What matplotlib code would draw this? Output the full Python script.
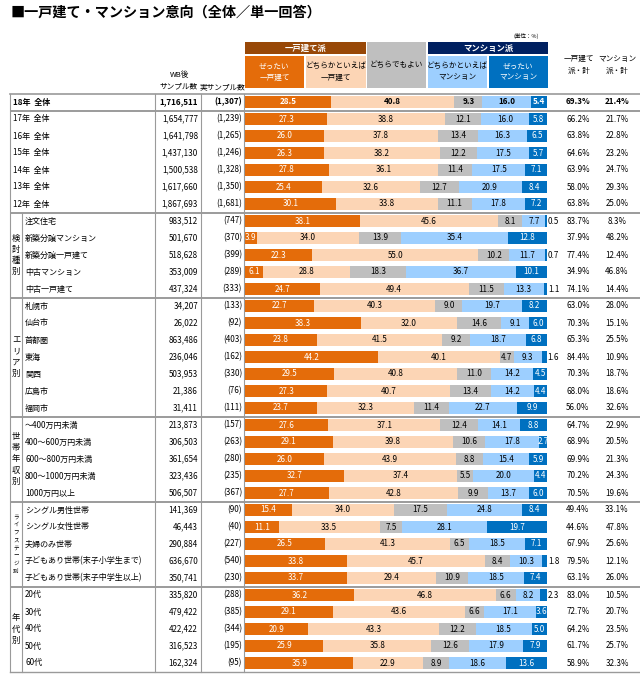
import numpy as np
import matplotlib
matplotlib.use('Agg')
import matplotlib.pyplot as plt
import matplotlib.transforms as mtransforms
from matplotlib.patches import Rectangle

plt.rcParams['font.family'] = ['Noto Sans CJK JP', 'DejaVu Sans']

labels = ['18年  全体', '17年  全体', '16年  全体', '15年  全体', '14年  全体', '13年  全体', '12年  全体',
          '注文住宅', '新築分譲マンション', '新築分譲一戸建て', '中古マンション', '中古一戸建て',
          '札幌市', '仙台市', '首都圏', '東海', '関西', '広島市', '福岡市',
          '～400万円未満', '400～600万円未満', '600～800万円未満', '800～1000万円未満', '1000万円以上',
          'シングル男性世帯', 'シングル女性世帯', '夫婦のみ世帯', '子どもあり世帯(末子小学生まで)', '子どもあり世帯(末子中学生以上)',
          '20代', '30代', '40代', '50代', '60代']
wb_n = [1716511, 1654777, 1641798, 1437130, 1500538, 1617660, 1867693,
        983512, 501670, 518628, 353009, 437324,
        34207, 26022, 863486, 236046, 503953, 21386, 31411,
        213873, 306503, 361654, 323436, 506507,
        141369, 46443, 290884, 636670, 350741,
        335820, 479422, 422422, 316523, 162324]
real_n = [1307, 1239, 1265, 1246, 1328, 1350, 1681,
          747, 370, 399, 289, 333,
          133, 92, 403, 162, 330, 76, 111,
          157, 263, 280, 235, 367,
          90, 40, 227, 540, 230,
          288, 385, 344, 195, 95]
zettai_ikko = [28.5, 27.3, 26.0, 26.3, 27.8, 25.4, 30.1,
               38.1, 3.9, 22.3, 6.1, 24.7,
               22.7, 38.3, 23.8, 44.2, 29.5, 27.3, 23.7,
               27.6, 29.1, 26.0, 32.7, 27.7,
               15.4, 11.1, 26.5, 33.8, 33.7,
               36.2, 29.1, 20.9, 25.9, 35.9]
dochira_ikko = [40.8, 38.8, 37.8, 38.2, 36.1, 32.6, 33.8,
                45.6, 34.0, 55.0, 28.8, 49.4,
                40.3, 32.0, 41.5, 40.1, 40.8, 40.7, 32.3,
                37.1, 39.8, 43.9, 37.4, 42.8,
                34.0, 33.5, 41.3, 45.7, 29.4,
                46.8, 43.6, 43.3, 35.8, 22.9]
dochira_demo = [9.3, 12.1, 13.4, 12.2, 11.4, 12.7, 11.1,
                8.1, 13.9, 10.2, 18.3, 11.5,
                9.0, 14.6, 9.2, 4.7, 11.0, 13.4, 11.4,
                12.4, 10.6, 8.8, 5.5, 9.9,
                17.5, 7.5, 6.5, 8.4, 10.9,
                6.6, 6.6, 12.2, 12.6, 8.9]
dochira_mansion = [16.0, 16.0, 16.3, 17.5, 17.5, 20.9, 17.8,
                   7.7, 35.4, 11.7, 36.7, 13.3,
                   19.7, 9.1, 18.7, 9.3, 14.2, 14.2, 22.7,
                   14.1, 17.8, 15.4, 20.0, 13.7,
                   24.8, 28.1, 18.5, 10.3, 18.5,
                   8.2, 17.1, 18.5, 17.9, 18.6]
zettai_mansion = [5.4, 5.8, 6.5, 5.7, 7.1, 8.4, 7.2,
                  0.5, 12.8, 0.7, 10.1, 1.1,
                  8.2, 6.0, 6.8, 1.6, 4.5, 4.4, 9.9,
                  8.8, 2.7, 5.9, 4.4, 6.0,
                  8.4, 19.7, 7.1, 1.8, 7.4,
                  2.3, 3.6, 5.0, 7.9, 13.6]
ikko_total = [69.3, 66.2, 63.8, 64.6, 63.9, 58.0, 63.8,
              83.7, 37.9, 77.4, 34.9, 74.1,
              63.0, 70.3, 65.3, 84.4, 70.3, 68.0, 56.0,
              64.7, 68.9, 69.9, 70.2, 70.5,
              49.4, 44.6, 67.9, 79.5, 63.1,
              83.0, 72.7, 64.2, 61.7, 58.9]
mansion_total = [21.4, 21.7, 22.8, 23.2, 24.7, 29.3, 25.0,
                 8.3, 48.2, 12.4, 46.8, 14.4,
                 28.0, 15.1, 25.5, 10.9, 18.7, 18.6, 32.6,
                 22.9, 20.5, 21.3, 24.3, 19.6,
                 33.1, 47.8, 25.6, 12.1, 26.0,
                 10.5, 20.7, 23.5, 25.7, 32.3]
sections = [('検討種別', 7, 11), ('エリア別', 12, 18), ('世帯年収別', 19, 23),
            ('ライフステージ別', 24, 28), ('年代別', 29, 33)]
seg_names = ['ぜったい\n一戸建て', 'どちらかといえば\n一戸建て', 'どちらでもよい',
             'どちらかといえば\nマンション', 'ぜったい\nマンション']

colors = ['#E46C0A', '#FCD5B5', '#BFBFBF', '#9DCFFF', '#0070C0']
txt_colors = ['white', 'black', 'black', 'black', 'white']
line_c = '#9a9a9a'

W, H = 640, 678
fig = plt.figure(figsize=(W / 100, H / 100), dpi=100)
ax0 = fig.add_axes([0, 0, 1, 1])
ax0.set_xlim(0, W)
ax0.set_ylim(H, 0)
ax0.axis('off')

n = len(labels)
top, step = 93.5, 17.0
bar_l, bar_r = 245, 547
ax = fig.add_axes([bar_l / W, 1 - (top + n * step) / H, (bar_r - bar_l) / W, n * step / H])
ax.set_xlim(0, 100)
ax.set_ylim(n - 0.5, -0.5)
ax.axis('off')
ax.patch.set_alpha(0)

# x in pixels, y in row index
tr = mtransforms.blended_transform_factory(ax0.transData, ax.transData)

fs = 5.8
# title
ax0.text(11, 13, '■一戸建て・マンション意向（全体／単一回答）', fontsize=10.2,
         fontweight='bold', va='center', ha='left')

# header boxes
def box(x0, x1, y0, y1, fc, text, tc, bold=False, size=5.5):
    ax0.add_patch(Rectangle((x0, y0), x1 - x0, y1 - y0, facecolor=fc, edgecolor='none'))
    ax0.text((x0 + x1) / 2, (y0 + y1) / 2, text, ha='center', va='center', color=tc,
             fontsize=size, fontweight='bold' if bold else 'normal', linespacing=1.5)

box(245, 366, 42, 54, '#984807', '一戸建て派', 'white', True, 6)
box(428, 548, 42, 54, '#002060', 'マンション派', 'white', True, 6)
seg_x = [(245, 304), (306, 366), (367, 426), (428, 487), (489, 548)]
for k, (x0, x1) in enumerate(seg_x):
    y0 = 42 if k == 2 else 56
    box(x0, x1, y0, 88, colors[k], seg_names[k], txt_colors[k])
ax0.text(526, 36, '(単位：%)', fontsize=4, ha='center', va='center')
ax0.text(579, 65, '一戸建て\n派・計', fontsize=5.5, ha='center', va='center', linespacing=1.6)
ax0.text(617, 65, 'マンション\n派・計', fontsize=5.5, ha='center', va='center', linespacing=1.6)
ax0.text(179, 81, 'WB後\nサンプル数', fontsize=5.5, ha='center', va='center', linespacing=1.6)
ax0.text(222, 87.5, '実サンプル数', fontsize=5.5, ha='center', va='center')

# stacked bars
series = [zettai_ikko, dochira_ikko, dochira_demo, dochira_mansion, zettai_mansion]
rows = np.arange(n)
left = np.zeros(n)
for k, vals in enumerate(series):
    vals = np.array(vals)
    ax.barh(rows, vals, left=left, height=0.72, color=colors[k], linewidth=0)
    for i, v in enumerate(vals):
        w = 'bold' if i == 0 else 'normal'
        if k == 4 and v < 2.5:
            ax.text(left[i] + v + 0.3, i, f'{v:.1f}', ha='left', va='center',
                    fontsize=fs, color='black', fontweight=w, clip_on=False)
        else:
            ax.text(left[i] + v / 2, i, f'{v:.1f}', ha='center', va='center',
                    fontsize=fs, color=txt_colors[k], fontweight=w)
    left += vals

# table text
for i in range(n):
    w = 'bold' if i == 0 else 'normal'
    ax0.text(13 if i < 7 else 25, i, labels[i], transform=tr, ha='left', va='center', fontsize=fs, fontweight=w)
    ax0.text(198, i, f'{wb_n[i]:,}', transform=tr, ha='right', va='center', fontsize=fs, fontweight=w)
    ax0.text(242, i, f'({real_n[i]:,})', transform=tr, ha='right', va='center', fontsize=fs, fontweight=w)
    ax0.text(578, i, f'{ikko_total[i]:.1f}%', transform=tr, ha='center', va='center', fontsize=fs, fontweight=w)
    ax0.text(617, i, f'{mansion_total[i]:.1f}%', transform=tr, ha='center', va='center', fontsize=fs, fontweight=w)

# section vertical labels
for name, a, b in sections:
    mid = (a + b) / 2
    small = len(name) > 5
    sp = 0.46 if small else 0.66
    sz = 4 if small else 6
    for j, ch in enumerate(name):
        ax0.text(16, mid + (j - (len(name) - 1) / 2) * sp, ch, transform=tr,
                 ha='center', va='center', fontsize=sz)

# grid lines
ax0.plot([10, 640], [-0.5, -0.5], transform=tr, color=line_c, lw=1.2)
for b in [0, 6, 11, 18, 23, 28]:
    for d in (-0.045, 0.045):
        ax0.plot([10, 640], [b + 0.5 + d, b + 0.5 + d], transform=tr, color=line_c, lw=0.7)
ax0.plot([10, 640], [n - 0.5, n - 0.5], transform=tr, color=line_c, lw=1.0)
for x in [10, 155, 201, 244]:
    ax0.plot([x, x], [-0.5, n - 0.5], transform=tr, color=line_c, lw=0.8)
ax0.plot([22, 22], [6.5, n - 0.5], transform=tr, color=line_c, lw=0.8)

fig.savefig('out.png', dpi=100)
